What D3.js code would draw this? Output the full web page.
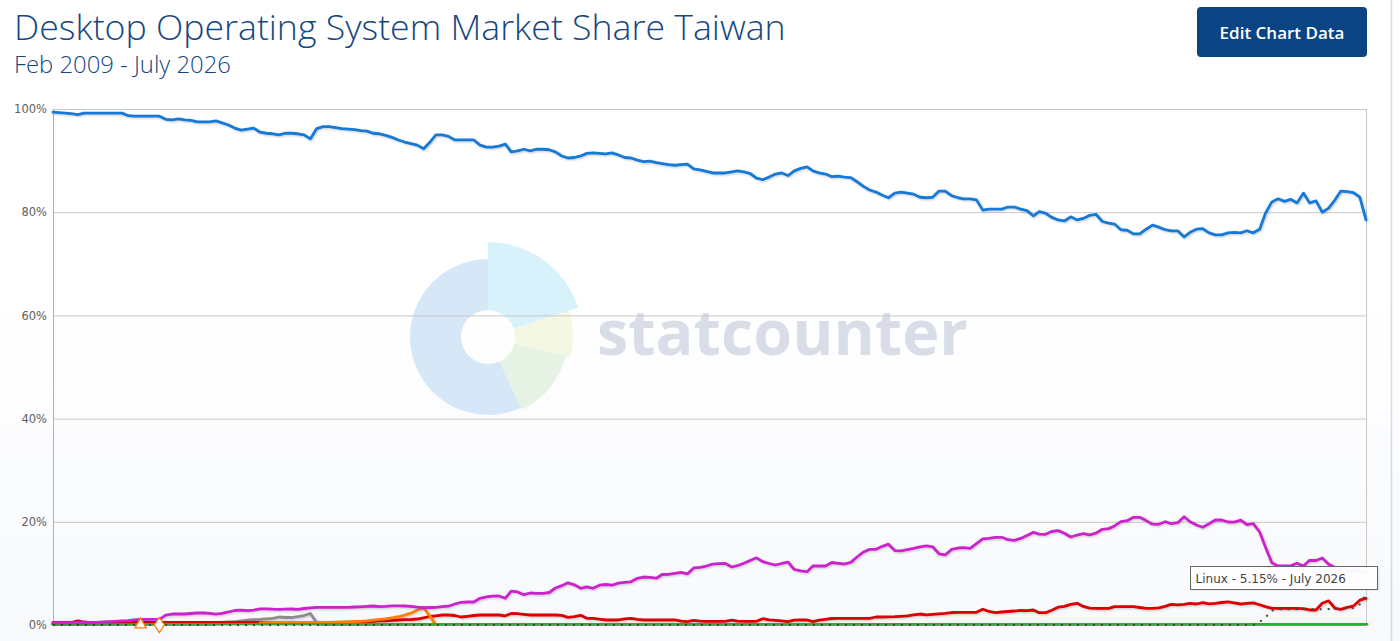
<!DOCTYPE html>
<html>
<head>
<meta charset="utf-8">
<title>Desktop Operating System Market Share Taiwan</title>
<script src="https://cdn.jsdelivr.net/npm/d3@7"></script>
<style>
  html, body { margin: 0; padding: 0; background: #fff; overflow: hidden; }
  svg { display: block; }
</style>
</head>
<body>
<svg id="chart" width="1400" height="641"></svg>
<script>
// Monthly desktop OS share for Taiwan, Feb 2009 .. July 2026 (percent)
var startMonth = new Date(2009, 1, 1)
var endMonth = new Date(2026, 6, 1)
var months = d3.timeMonth.range(startMonth, d3.timeMonth.offset(endMonth, 1))

var windows = [
  99.4, 99.3, 99.2, 99.1, 98.9, 99.2, 99.2, 99.2, 99.2, 99.2,
  99.2, 99.2, 98.7, 98.6, 98.6, 98.6, 98.6, 98.6, 98.0, 97.9,
  98.1, 97.9, 97.8, 97.5, 97.5, 97.5, 97.7, 97.3, 96.9, 96.3,
  95.9, 96.1, 96.3, 95.5, 95.3, 95.2, 95.0, 95.3, 95.3, 95.2,
  95.0, 94.2, 96.2, 96.6, 96.6, 96.4, 96.2, 96.1, 96.0, 95.8,
  95.7, 95.3, 95.2, 94.9, 94.5, 94.0, 93.6, 93.3, 93.0, 92.3,
  93.6, 95.0, 95.0, 94.7, 94.0, 94.0, 94.0, 94.0, 93.0, 92.6,
  92.6, 92.8, 93.2, 91.7, 91.9, 92.2, 91.9, 92.2, 92.2, 92.1,
  91.7, 90.9, 90.5, 90.6, 90.9, 91.4, 91.5, 91.4, 91.3, 91.5,
  91.1, 90.6, 90.5, 90.1, 89.8, 89.9, 89.6, 89.4, 89.2, 89.1,
  89.2, 89.3, 88.4, 88.2, 87.9, 87.6, 87.6, 87.6, 87.8, 88.0,
  87.8, 87.5, 86.6, 86.3, 86.8, 87.4, 87.6, 87.1, 88.0, 88.5,
  88.8, 88.0, 87.6, 87.4, 86.9, 87.0, 86.8, 86.7, 85.9, 85.0,
  84.3, 83.9, 83.3, 82.8, 83.7, 83.9, 83.7, 83.5, 82.9, 82.8,
  82.9, 84.1, 84.1, 83.2, 82.8, 82.6, 82.6, 82.4, 80.4, 80.6,
  80.6, 80.6, 81.0, 81.0, 80.6, 80.3, 79.3, 80.1, 79.8, 79.0,
  78.5, 78.3, 79.1, 78.5, 78.8, 79.4, 79.6, 78.2, 77.9, 77.7,
  76.6, 76.5, 75.8, 75.8, 76.7, 77.5, 77.1, 76.6, 76.4, 76.4,
  75.2, 76.1, 76.7, 76.8, 76.0, 75.6, 75.6, 76.0, 76.1, 76.0,
  76.4, 76.0, 76.7, 79.8, 82.0, 82.6, 82.1, 82.5, 81.8, 83.7,
  81.8, 82.2, 80.0, 80.8, 82.4, 84.1, 84.0, 83.8, 82.9, 78.5
]

var osx = [
  0.45, 0.45, 0.47, 0.47, 0.48, 0.48, 0.5, 0.52, 0.58, 0.64,
  0.72, 0.78, 0.85, 0.97, 1.07, 1.1, 1.1, 1.1, 1.9, 2.13,
  2.13, 2.13, 2.23, 2.33, 2.36, 2.27, 2.09, 2.27, 2.52, 2.81,
  2.87, 2.79, 2.9, 3.14, 3.14, 3.06, 3.04, 3.06, 3.1, 3.04,
  3.2, 3.33, 3.43, 3.43, 3.43, 3.43, 3.43, 3.43, 3.49, 3.53,
  3.6, 3.68, 3.58, 3.6, 3.72, 3.7, 3.68, 3.62, 3.45, 3.35,
  3.39, 3.43, 3.55, 3.64, 4.07, 4.4, 4.46, 4.46, 5.17, 5.43,
  5.58, 5.62, 5.19, 6.55, 6.4, 5.87, 6.2, 6.14, 6.14, 6.3,
  7.17, 7.62, 8.18, 7.79, 7.11, 7.4, 7.11, 7.71, 7.85, 7.71,
  8.1, 8.28, 8.37, 9.05, 9.3, 9.24, 9.07, 9.79, 9.83, 10.02,
  10.19, 9.9, 11.05, 11.18, 11.43, 11.8, 11.88, 11.92, 11.24, 11.49,
  11.96, 12.5, 13.02, 12.27, 11.92, 11.63, 11.92, 12.17, 10.76, 10.5,
  10.33, 11.43, 11.43, 11.43, 12.11, 11.96, 11.82, 12.13, 13.18, 14.15,
  14.65, 14.67, 15.25, 15.66, 14.42, 14.38, 14.61, 14.83, 15.16, 15.33,
  15.16, 13.8, 13.57, 14.65, 14.92, 15.0, 14.86, 15.76, 16.67, 16.8,
  17.0, 17.0, 16.53, 16.41, 16.78, 17.36, 17.95, 17.6, 17.58, 18.12,
  18.29, 17.77, 17.05, 17.44, 17.71, 17.48, 17.79, 18.55, 18.68, 19.2,
  20.04, 20.21, 20.87, 20.87, 20.23, 19.53, 19.52, 20.02, 19.63, 19.83,
  20.97, 20.0, 19.38, 18.95, 19.63, 20.35, 20.35, 19.96, 19.94, 20.31,
  19.44, 19.63, 18.02, 15.1, 12.07, 11.43, 11.43, 11.47, 11.96, 11.43,
  12.54, 12.5, 12.98, 11.78, 11.14, 10.66, 10.5, 10.5, 10.66, 10.3
]

var linux = [
  0.48, 0.48, 0.5, 0.48, 0.81, 0.58, 0.48, 0.48, 0.48, 0.48,
  0.48, 0.48, 0.48, 0.5, 0.5, 0.5, 0.5, 0.5, 0.5, 0.5,
  0.5, 0.5, 0.5, 0.5, 0.5, 0.5, 0.5, 0.5, 0.5, 0.5,
  0.5, 0.52, 0.52, 0.52, 0.52, 0.52, 0.52, 0.52, 0.52, 0.52,
  0.52, 0.52, 0.52, 0.52, 0.52, 0.52, 0.52, 0.54, 0.58, 0.62,
  0.68, 0.72, 0.78, 0.81, 0.89, 0.97, 1.03, 1.07, 1.16, 1.4,
  1.65, 1.78, 1.94, 1.94, 1.84, 1.55, 1.69, 1.84, 1.94, 1.94,
  1.94, 1.94, 1.78, 2.23, 2.21, 2.07, 1.94, 1.94, 1.94, 1.94,
  1.94, 1.88, 1.49, 1.61, 1.88, 1.3, 1.3, 1.12, 0.97, 0.97,
  0.97, 1.2, 1.3, 1.1, 0.97, 0.97, 0.97, 0.97, 0.97, 0.97,
  0.74, 0.64, 0.89, 0.76, 0.72, 0.72, 0.72, 0.72, 0.95, 0.74,
  0.72, 0.72, 0.72, 1.22, 0.99, 0.91, 0.79, 0.66, 0.95, 0.97,
  0.97, 0.66, 0.95, 1.09, 1.26, 1.3, 1.3, 1.3, 1.3, 1.3,
  1.3, 1.55, 1.55, 1.59, 1.61, 1.69, 1.76, 1.94, 2.13, 1.98,
  2.07, 2.17, 2.25, 2.42, 2.46, 2.46, 2.46, 2.46, 3.06, 2.62,
  2.38, 2.52, 2.62, 2.71, 2.85, 2.77, 2.91, 2.38, 2.38, 2.87,
  3.45, 3.6, 3.99, 4.21, 3.6, 3.26, 3.24, 3.24, 3.24, 3.55,
  3.55, 3.55, 3.55, 3.39, 3.24, 3.24, 3.31, 3.6, 3.99, 3.88,
  4.01, 4.21, 4.07, 4.32, 4.11, 4.19, 4.36, 4.5, 4.3, 4.07,
  4.21, 4.3, 3.93, 3.55, 3.24, 3.24, 3.24, 3.24, 3.24, 3.18,
  2.91, 2.91, 4.21, 4.69, 3.24, 3.04, 3.43, 3.68, 4.81, 5.15
]

// Unknown: zero until late 2024, then picks up
var unknownTail = [0.6, 1.45, 2.8, 3.05, 3.05, 3.05, 3.05, 3.05, 3.05, 3.05, 3.05, 3.1, 3.15, 3.2, 3.2, 3.3, 4.0, 6.0]
var unknown = d3.range(192).map(() => 0).concat(unknownTail)

// Chrome OS: flat near zero
var chromeOS = [].concat(
  d3.range(147).map(() => 0.05),
  d3.range(49).map(() => 0.3),
  d3.range(14).map(() => 0.12)
)

// Other (gray) rises briefly in 2011/2012
var otherBump = [0.2, 0.5, 0.58, 0.62, 0.78, 0.93, 1.05, 1.1, 1.2, 1.3, 1.55, 1.45, 1.45, 1.61, 1.84, 2.23, 0.48]
var other = d3.range(26).map(() => 0.05).concat(otherBump, d3.range(167).map(() => 0.05))

// Orange series only reported between late 2011 and early 2014
var orangeStart = 33
var orangeValues = [0.4, 0.45, 0.5, 0.5, 0.5, 0.5, 0.5, 0.5, 0.5, 0.5, 0.5, 0.5, 0.55, 0.6, 0.6,
  0.65, 0.7, 0.8, 0.95, 1.1, 1.2, 1.4, 1.6, 1.9, 2.3, 2.9, 3.4, 1.7, 0]
var orange = months.map((m, i) => {
  var k = i - orangeStart
  return k >= 0 && k < orangeValues.length ? orangeValues[k] : null
})

// two one-month series shown only as markers
var isolatedPoints = [
  { index: 14, value: 0.4, shape: 'triangle' },
  { index: 17, value: 0, shape: 'diamond' }
]

var yTicks = [0, 20, 40, 60, 80, 100]

var series = [
  { name: 'Other', values: other, color: '#8c8c8c', width: 2.8 },
  { name: 'Linux', values: linux, color: '#dd0000', width: 2.8 },
  { name: 'Other 2', values: orange, color: '#ff7f00', width: 2.8 },
  { name: 'Chrome OS', values: chromeOS, color: '#22b322', width: 4.5 },
  { name: 'Unknown', values: unknown, color: '#444444', width: 2, dash: '2,6' },
  { name: 'OS X', values: osx, color: '#cc22cc', width: 2.8 },
  { name: 'Windows', values: windows, color: '#1479d8', width: 2.8 }
]

var svg = d3.select('#chart')
var plotLeft = 53
var plotRight = 1366
var plotTop = 109
var plotBottom = 625

var x = d3.scaleTime().domain([startMonth, endMonth]).range([plotLeft, plotRight])
var y = d3.scaleLinear().domain([0, 100]).range([plotBottom, plotTop])

var defs = svg.append('defs')
var grad = defs.append('linearGradient').attr('id', 'bg').attr('x1', 0).attr('y1', 0).attr('x2', 0).attr('y2', 1)
grad.append('stop').attr('offset', '0%').attr('stop-color', '#ffffff')
grad.append('stop').attr('offset', '45%').attr('stop-color', '#ffffff')
grad.append('stop').attr('offset', '100%').attr('stop-color', '#f7f9fc')

var shadow = defs.append('filter').attr('id', 'shadow').attr('x', '-5%').attr('y', '-5%').attr('width', '110%').attr('height', '110%')
shadow.append('feDropShadow').attr('dx', 1).attr('dy', 1).attr('stdDeviation', 1)
  .attr('flood-color', '#000').attr('flood-opacity', 0.22)

svg.append('rect').attr('width', 1400).attr('height', 641).attr('fill', 'url(#bg)')

// page edge on the right
svg.append('line').attr('x1', 1391.5).attr('x2', 1391.5).attr('y1', 0).attr('y2', 641)
  .attr('stroke', '#d3dbe5').attr('stroke-width', 1.5)

/**
 * Draws the title, subtitle and the button above the chart.
 */
function drawHeader () {
  var title = svg.append('text')
    .attr('x', 14).attr('y', 40)
    .attr('font-family', 'Open Sans, sans-serif')
    .attr('font-weight', 300)
    .attr('font-size', 36)
    .attr('fill', '#16477f')
    .text('Desktop Operating System Market Share Taiwan')
  fitWidth(title, 772)

  var sub = svg.append('text')
    .attr('x', 14).attr('y', 73)
    .attr('font-family', 'Open Sans, sans-serif')
    .attr('font-weight', 300)
    .attr('font-size', 23)
    .attr('fill', '#16477f')
    .text('Feb 2009 - July 2026')
  fitWidth(sub, 217)

  svg.append('rect')
    .attr('x', 1197).attr('y', 7).attr('width', 170).attr('height', 50).attr('rx', 4)
    .attr('fill', '#0b4482')
  svg.append('text')
    .attr('x', 1282).attr('y', 38.5)
    .attr('text-anchor', 'middle')
    .attr('font-family', 'Open Sans, sans-serif')
    .attr('font-weight', 600)
    .attr('font-size', 17)
    .attr('fill', '#ffffff')
    .text('Edit Chart Data')
}

/**
 * Scales a text's font size so that it spans the given width.
 *
 * @param {*} sel The text selection
 * @param {number} width The width it should have
 */
function fitWidth (sel, width) {
  var len = sel.node().getComputedTextLength()
  var size = +sel.attr('font-size')
  sel.attr('font-size', size * width / len)
}

/**
 * Draws the faded statcounter logo in the middle of the plot.
 */
function drawWatermark () {
  var g = svg.append('g').attr('transform', 'translate(488,337)')
  var deg = Math.PI / 180
  var wedges = [
    { a0: 0, a1: 72, r: 95, color: '#d8f2fb' },
    { a0: 72, a1: 104, r: 85, color: '#f4f8e3' },
    { a0: 104, a1: 155, r: 80, color: '#e6f2e3' },
    { a0: 155, a1: 360, r: 78, color: '#d6e7f7' }
  ]
  wedges.forEach(w => {
    g.append('path')
      .attr('d', d3.arc()({ innerRadius: 27, outerRadius: w.r, startAngle: w.a0 * deg, endAngle: w.a1 * deg }))
      .attr('fill', w.color)
  })
  var t = svg.append('text')
    .attr('x', 597).attr('y', 355)
    .attr('font-family', 'Open Sans, sans-serif')
    .attr('font-weight', 700)
    .attr('font-size', 62)
    .attr('fill', '#d8dde8')
    .text('statcounter')
  fitWidth(t, 371)
}

/**
 * Draws gridlines, the y axis labels and the plot border.
 */
function drawAxes () {
  var axis = d3.axisLeft(y)
    .tickValues(yTicks)
    .tickSize(-(plotRight - plotLeft))
    .tickPadding(6)
    .tickFormat(d => d + '%')

  var g = svg.append('g').attr('transform', 'translate(' + plotLeft + ',0)').call(axis)
  g.select('.domain').remove()
  g.selectAll('.tick line').attr('stroke', '#c8c8c8')
  g.selectAll('.tick text')
    .attr('font-family', 'DejaVu Sans, sans-serif')
    .attr('font-size', 11.5)
    .attr('fill', '#606060')

  svg.append('line').attr('x1', plotLeft + 0.5).attr('x2', plotLeft + 0.5).attr('y1', plotTop).attr('y2', plotBottom)
    .attr('stroke', '#b0b0b0')
  svg.append('line').attr('x1', plotRight + 0.5).attr('x2', plotRight + 0.5).attr('y1', plotTop).attr('y2', plotBottom)
    .attr('stroke', '#c8c8c8')
}

/**
 * Draws every series as a line.
 */
function drawLines () {
  var line = d3.line()
    .defined(d => d.value !== null)
    .x(d => x(d.date))
    .y(d => y(d.value))

  var g = svg.append('g').attr('class', 'series')
  series.forEach(s => {
    var data = months.map((m, i) => ({ date: m, value: s.values[i] === undefined ? null : s.values[i] }))
    g.append('path')
      .datum(data)
      .attr('d', line)
      .attr('fill', 'none')
      .attr('stroke', s.color)
      .attr('stroke-width', s.width)
      .attr('stroke-linejoin', 'round')
      .attr('stroke-linecap', s.dash ? 'butt' : 'round')
      .attr('stroke-dasharray', s.dash || null)
      .attr('filter', s.dash ? null : 'url(#shadow)')
  })

  // box-centred marker shapes for single-month series
  var shapes = {
    triangle: 'M0,-5L5.5,5L-5.5,5Z',
    diamond: 'M0,-7.5L5,0L0,7.5L-5,0Z'
  }
  g.selectAll('.marker')
    .data(isolatedPoints)
    .enter()
    .append('path')
    .attr('class', 'marker')
    .attr('transform', d => 'translate(' + x(months[d.index]) + ',' + y(d.value) + ')')
    .attr('d', d => shapes[d.shape])
    .attr('fill', '#ffffff')
    .attr('stroke', '#ff7f00')
    .attr('stroke-width', 1.3)
}

/**
 * Draws the hover tooltip for the last Linux point.
 */
function drawTooltip () {
  var last = linux.length - 1
  var label = 'Linux - ' + linux[last].toFixed(2) + '% - ' + d3.timeFormat('%B %Y')(months[last])
  var g = svg.append('g').attr('transform', 'translate(1190.5,566.5)')
  g.append('rect')
    .attr('x', 1).attr('y', 1).attr('width', 188).attr('height', 23)
    .attr('fill', '#000').attr('opacity', 0.08)
  g.append('rect')
    .attr('width', 187).attr('height', 23)
    .attr('fill', '#ffffff').attr('fill-opacity', 0.96)
    .attr('stroke', '#666666').attr('stroke-width', 1)
  g.append('text')
    .attr('x', 5).attr('y', 16.5)
    .attr('font-family', 'DejaVu Sans, sans-serif')
    .attr('font-size', 12)
    .attr('fill', '#444444')
    .text(label)
}

drawHeader()
drawWatermark()
drawAxes()
drawLines()
drawTooltip()
</script>
</body>
</html>
